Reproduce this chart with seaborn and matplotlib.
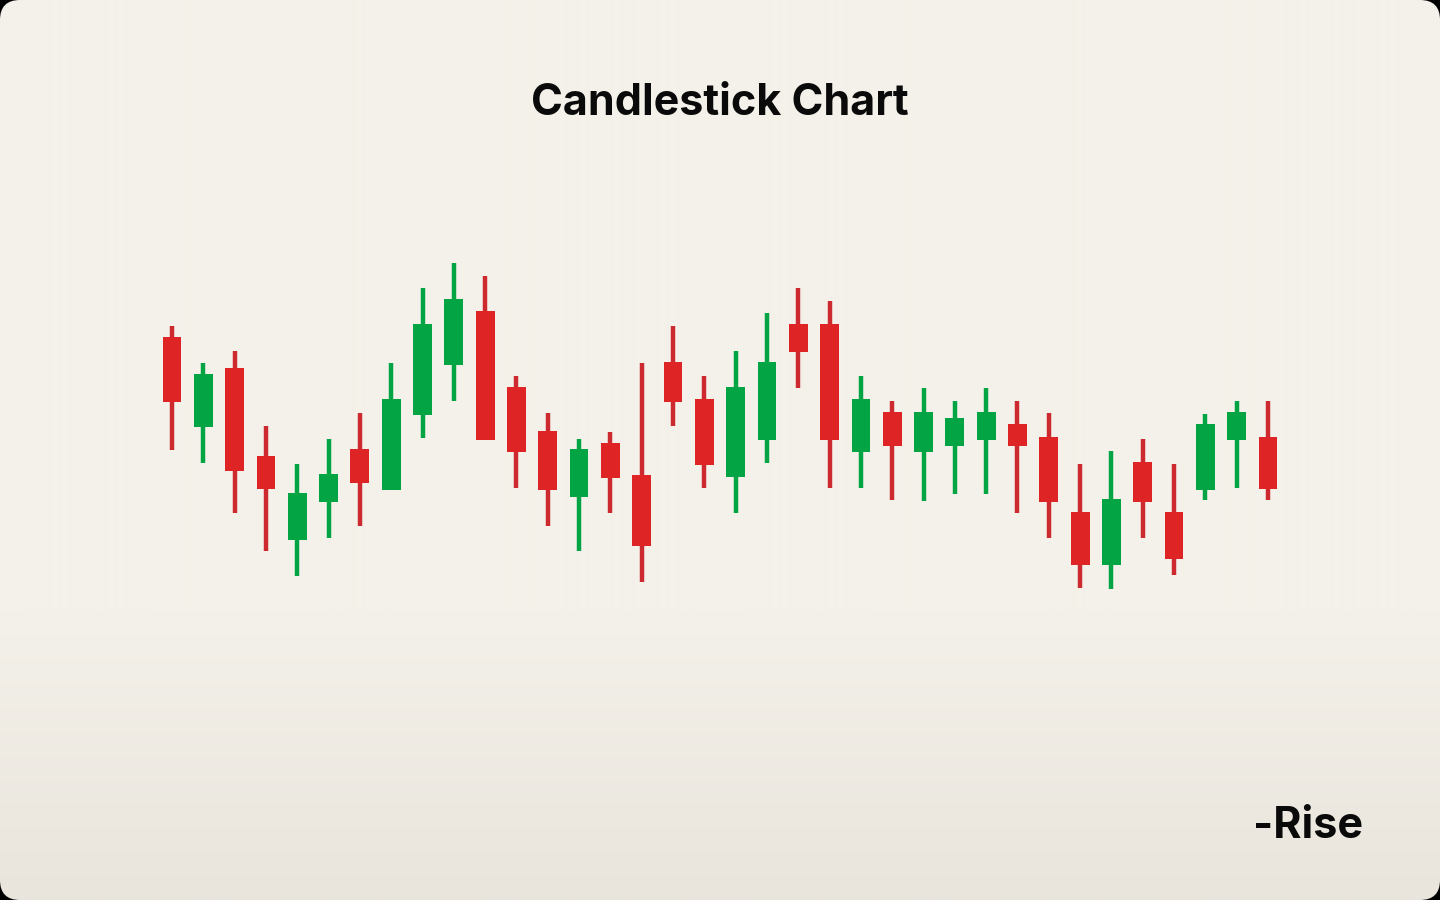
import numpy as np
import matplotlib.pyplot as plt
from matplotlib.patches import FancyBboxPatch
import seaborn as sns

# candle data (open / high / low / close)
opens  = [263, 173, 232, 144, 60, 98, 151, 110, 185, 235, 289, 213, 169, 103, 157, 125, 238, 201,
          123, 160, 276, 276, 148, 188, 148, 154, 160, 176, 163, 88, 35, 138, 88, 110, 160, 163]
highs  = [274, 237, 249, 174, 136, 161, 187, 237, 312, 337, 324, 224, 187, 161, 168, 237, 274, 224,
          249, 287, 312, 299, 224, 199, 212, 199, 212, 199, 187, 136, 149, 161, 136, 186, 199, 199]
lows   = [150, 137, 87, 49, 24, 62, 74, 110, 162, 199, 160, 112, 74, 49, 87, 18, 174, 112,
          87, 137, 212, 112, 112, 100, 99, 106, 106, 87, 62, 12, 11, 62, 25, 100, 112, 100]
closes = [198, 226, 129, 111, 107, 126, 117, 201, 276, 301, 160, 148, 110, 151, 122, 54, 198, 135,
          213, 238, 248, 160, 201, 154, 188, 182, 188, 154, 98, 35, 101, 98, 41, 176, 188, 111]

title = "Candlestick Chart"
brand = "-Rise"

UP_COLOR = "#02A443"
DOWN_COLOR = "#DF2426"
DOWN_WICK = "#CC2A2E"

sns.set_theme(style="white")
plt.rcParams['font.family'] = ['Inter', 'DejaVu Sans']

fig = plt.figure(figsize=(14.4, 9), dpi=100)
fig.patch.set_facecolor("#000000")

# background card: gradient + rounded corners
bg = fig.add_axes([0, 0, 1, 1])
bg.set_xlim(0, 1440)
bg.set_ylim(900, 0)
bg.axis("off")
top_col = np.array([244, 241, 234]) / 255
bot_col = np.array([233, 229, 221]) / 255
rows = np.linspace(0, 1, 900)
t = np.clip((rows - 0.68) / 0.32, 0, 1)[:, None]
grad = top_col[None, :] * (1 - t) + bot_col[None, :] * t
img = np.repeat(grad[:, None, :], 2, axis=1)
im = bg.imshow(img, extent=(0, 1440, 900, 0), aspect="auto", interpolation="bilinear")
card = FancyBboxPatch((0, 0), 1440, 900, boxstyle="round,pad=0,rounding_size=20",
                      facecolor="none", edgecolor="none", transform=bg.transData)
bg.add_patch(card)
im.set_clip_path(card)

# candles
ax = fig.add_axes([0, 0, 1, 1])
ax.patch.set_alpha(0)
idx = np.arange(len(opens))
o = np.array(opens)
c = np.array(closes)
up = c >= o
body_bottom = np.minimum(o, c)
body_height = np.abs(c - o)
body_colors = [UP_COLOR if u else DOWN_COLOR for u in up]
wick_colors = [UP_COLOR if u else DOWN_WICK for u in up]

ax.vlines(idx, lows, highs, colors=wick_colors, linewidth=3.2, zorder=2)
ax.bar(idx, body_height, bottom=body_bottom, width=0.6, color=body_colors,
       edgecolor="none", zorder=3)

ax.set_xlim(-5.493, 40.493)
ax.set_ylim(-300, 600)
ax.axis("off")

fig.text(0.5, 1 - 115 / 900, title, ha="center", va="baseline",
         fontsize=31, fontweight="bold", color="#0A0A0A")
fig.text(1363 / 1440, 1 - 838 / 900, brand, ha="right", va="baseline",
         fontsize=31, fontweight="bold", color="#0A0A0A")

plt.savefig("out.png", dpi=100, facecolor=fig.get_facecolor())
